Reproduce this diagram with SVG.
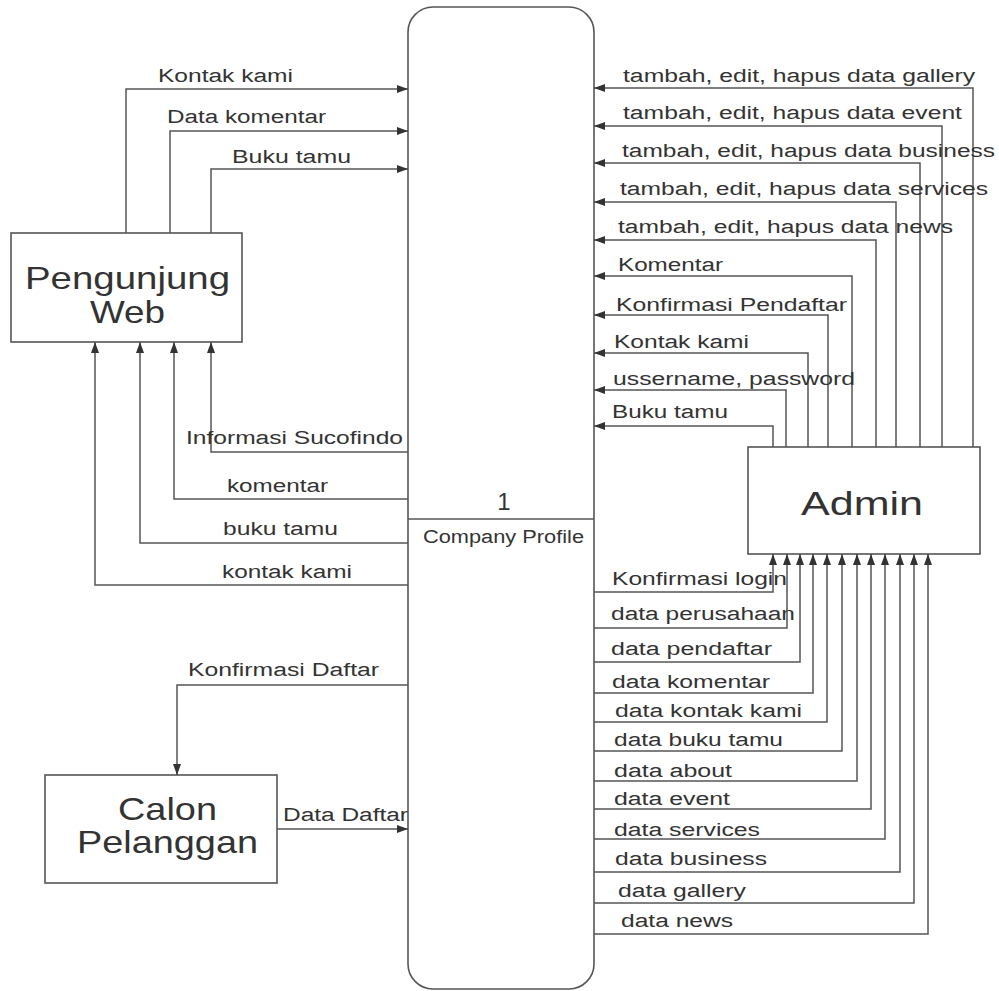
<svg xmlns="http://www.w3.org/2000/svg" width="999" height="991" viewBox="0 0 999 991">
<style>
.box{fill:#fff;stroke:#555;stroke-width:1.6}
.ln{fill:none;stroke:#555;stroke-width:1.5;marker-end:url(#ah)}
.t{font-family:"Liberation Sans",Arial,sans-serif;font-size:18px;fill:#333}
.big{font-family:"Liberation Sans",Arial,sans-serif;fill:#333}
</style>
<defs>
<marker id="ah" markerUnits="userSpaceOnUse" markerWidth="12" markerHeight="10" refX="11" refY="4" orient="auto">
<path d="M0,0 L11,4 L0,8 z" fill="#333"/>
</marker>
</defs>
<rect width="999" height="991" fill="#fff"/>

<g id="process">
<rect class="box" x="408" y="7" width="186" height="982" rx="25" ry="25"/>
<line x1="408" y1="519" x2="594" y2="519" stroke="#555" stroke-width="1.5"/>
<text class="big" x="504" y="510" font-size="24" text-anchor="middle">1</text>
<text class="t" x="423" y="543" textLength="161" lengthAdjust="spacingAndGlyphs" font-size="16">Company Profile</text>
</g>

<g id="pengunjung">
<rect class="box" x="11" y="233" width="231" height="109"/>
<text class="big" x="25" y="289" font-size="32" textLength="205" lengthAdjust="spacingAndGlyphs">Pengunjung</text>
<text class="big" x="90" y="323" font-size="32" textLength="75" lengthAdjust="spacingAndGlyphs">Web</text>
</g>

<g id="calon">
<rect class="box" x="45" y="775" width="232" height="108"/>
<text class="big" x="118" y="820" font-size="32" textLength="99" lengthAdjust="spacingAndGlyphs">Calon</text>
<text class="big" x="77" y="853" font-size="32" textLength="181" lengthAdjust="spacingAndGlyphs">Pelanggan</text>
</g>

<g id="admin">
<rect class="box" x="748" y="447" width="232" height="107"/>
<text class="big" x="801" y="515" font-size="34" textLength="122" lengthAdjust="spacingAndGlyphs">Admin</text>
</g>

<g id="connectors">
<path class="ln" d="M126,233 V89 H408"/>
<path class="ln" d="M170,233 V131 H408"/>
<path class="ln" d="M211,233 V169 H408"/>
<path class="ln" d="M408,452 H211 V342"/>
<path class="ln" d="M408,499 H174 V342"/>
<path class="ln" d="M408,543 H140 V342"/>
<path class="ln" d="M408,585 H95 V342"/>
<path class="ln" d="M408,685 H177 V775"/>
<path class="ln" d="M277,829 H408"/>
<path class="ln" d="M973,447 V88 H594"/>
<path class="ln" d="M942,447 V126 H594"/>
<path class="ln" d="M920,447 V163 H594"/>
<path class="ln" d="M896,447 V202 H594"/>
<path class="ln" d="M876,447 V240 H594"/>
<path class="ln" d="M852,447 V276 H594"/>
<path class="ln" d="M828,447 V315 H594"/>
<path class="ln" d="M808,447 V353 H594"/>
<path class="ln" d="M786,447 V390 H594"/>
<path class="ln" d="M773,447 V426 H594"/>
<path class="ln" d="M594,592 H773 V554"/>
<path class="ln" d="M594,628 H787 V554"/>
<path class="ln" d="M594,662 H800 V554"/>
<path class="ln" d="M594,693 H813 V554"/>
<path class="ln" d="M594,722 H827 V554"/>
<path class="ln" d="M594,751 H842 V554"/>
<path class="ln" d="M594,781 H857 V554"/>
<path class="ln" d="M594,809 H871 V554"/>
<path class="ln" d="M594,839 H885 V554"/>
<path class="ln" d="M594,872 H900 V554"/>
<path class="ln" d="M594,903 H914 V554"/>
<path class="ln" d="M594,934 H928 V554"/>
</g>

<g id="labels">
<text class="t" x="158" y="82" textLength="135" lengthAdjust="spacingAndGlyphs">Kontak kami</text>
<text class="t" x="167" y="123" textLength="159" lengthAdjust="spacingAndGlyphs">Data komentar</text>
<text class="t" x="232" y="163" textLength="119" lengthAdjust="spacingAndGlyphs">Buku tamu</text>
<text class="t" x="186" y="444" textLength="217" lengthAdjust="spacingAndGlyphs">Informasi Sucofindo</text>
<text class="t" x="227" y="492" textLength="101" lengthAdjust="spacingAndGlyphs">komentar</text>
<text class="t" x="223" y="535" textLength="115" lengthAdjust="spacingAndGlyphs">buku tamu</text>
<text class="t" x="222" y="578" textLength="130" lengthAdjust="spacingAndGlyphs">kontak kami</text>
<text class="t" x="188" y="676" textLength="191" lengthAdjust="spacingAndGlyphs">Konfirmasi Daftar</text>
<text class="t" x="283" y="821" textLength="125" lengthAdjust="spacingAndGlyphs">Data Daftar</text>

<text class="t" x="623" y="82" textLength="352" lengthAdjust="spacingAndGlyphs">tambah, edit, hapus data gallery</text>
<text class="t" x="623" y="119" textLength="339" lengthAdjust="spacingAndGlyphs">tambah, edit, hapus data event</text>
<text class="t" x="622" y="157" textLength="373" lengthAdjust="spacingAndGlyphs">tambah, edit, hapus data business</text>
<text class="t" x="620" y="195" textLength="368" lengthAdjust="spacingAndGlyphs">tambah, edit, hapus data services</text>
<text class="t" x="618" y="233" textLength="335" lengthAdjust="spacingAndGlyphs">tambah, edit, hapus data news</text>
<text class="t" x="618" y="271" textLength="105" lengthAdjust="spacingAndGlyphs">Komentar</text>
<text class="t" x="616" y="311" textLength="231" lengthAdjust="spacingAndGlyphs">Konfirmasi Pendaftar</text>
<text class="t" x="614" y="348" textLength="135" lengthAdjust="spacingAndGlyphs">Kontak kami</text>
<text class="t" x="613" y="385" textLength="242" lengthAdjust="spacingAndGlyphs">ussername, password</text>
<text class="t" x="612" y="418" textLength="116" lengthAdjust="spacingAndGlyphs">Buku tamu</text>

<text class="t" x="612" y="585" textLength="175" lengthAdjust="spacingAndGlyphs">Konfirmasi login</text>
<text class="t" x="611" y="620" textLength="184" lengthAdjust="spacingAndGlyphs">data perusahaan</text>
<text class="t" x="611" y="655" textLength="161" lengthAdjust="spacingAndGlyphs">data pendaftar</text>
<text class="t" x="612" y="688" textLength="158" lengthAdjust="spacingAndGlyphs">data komentar</text>
<text class="t" x="615" y="717" textLength="187" lengthAdjust="spacingAndGlyphs">data kontak kami</text>
<text class="t" x="614" y="746" textLength="169" lengthAdjust="spacingAndGlyphs">data buku tamu</text>
<text class="t" x="614" y="777" textLength="118" lengthAdjust="spacingAndGlyphs">data about</text>
<text class="t" x="614" y="805" textLength="116" lengthAdjust="spacingAndGlyphs">data event</text>
<text class="t" x="614" y="836" textLength="146" lengthAdjust="spacingAndGlyphs">data services</text>
<text class="t" x="615" y="865" textLength="152" lengthAdjust="spacingAndGlyphs">data business</text>
<text class="t" x="618" y="897" textLength="128" lengthAdjust="spacingAndGlyphs">data gallery</text>
<text class="t" x="621" y="927" textLength="112" lengthAdjust="spacingAndGlyphs">data news</text>
</g>
</svg>
